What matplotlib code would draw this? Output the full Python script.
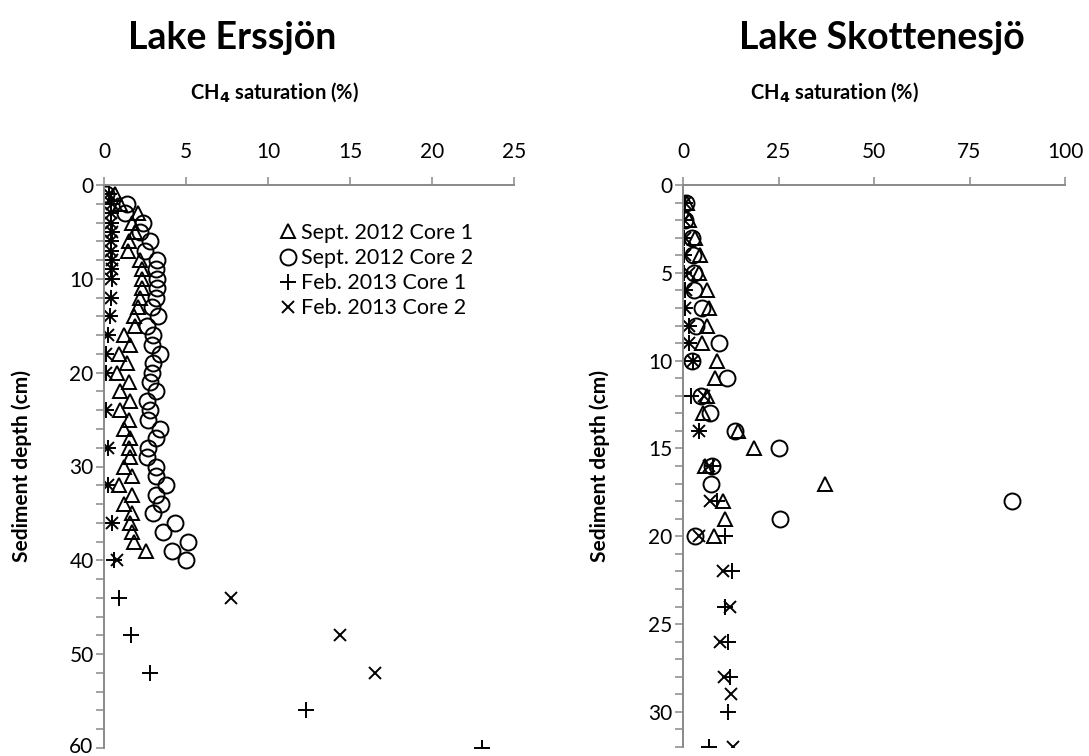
import numpy as np
import matplotlib
matplotlib.use('Agg')
import matplotlib.pyplot as plt
import matplotlib.transforms as mtransforms
from matplotlib.ticker import MultipleLocator

plt.rcParams['font.family'] = ['Lato', 'DejaVu Sans']

# ---- Lake Erssjon (depth in cm, CH4 saturation in %) ----
ers_sep1_depth = list(range(1, 40))
ers_sep1 = [0.7, 1.0, 2.1, 1.7, 1.9, 1.5, 1.45, 2.2, 2.3, 2.3,
            2.3, 2.2, 2.1, 1.8, 1.9, 1.2, 1.6, 0.9, 1.4, 0.8,
            1.5, 1.0, 1.6, 1.0, 1.5, 1.2, 1.6, 1.5, 1.6, 1.2,
            1.7, 0.9, 1.7, 1.2, 1.7, 1.6, 1.7, 1.8, 2.55]

ers_sep2_depth = list(range(1, 41))
ers_sep2 = [0.1, 1.4, 1.3, 2.4, 2.2, 2.8, 2.5, 3.25, 3.2, 3.25,
            3.25, 3.2, 2.9, 3.3, 2.6, 3.0, 2.9, 3.4, 3.0, 2.9,
            2.8, 3.2, 2.6, 2.8, 2.7, 3.4, 3.15, 2.7, 2.6, 3.2,
            3.15, 3.8, 3.15, 3.5, 3.0, 4.3, 3.6, 5.1, 4.15, 5.0]

ers_feb1_depth = [1, 2, 3, 4, 5, 6, 7, 8, 9, 10, 12, 14, 16, 18, 20, 24, 28,
                  32, 36, 40, 44, 48, 52, 56, 60]
ers_feb1 = [0.3, 0.45, 0.4, 0.45, 0.5, 0.4, 0.45, 0.5, 0.45, 0.5, 0.4, 0.35,
            0.25, 0.15, 0.1, 0.15, 0.25, 0.25, 0.5, 0.6, 0.93, 1.62, 2.79,
            12.3, 23.05]

ers_feb2_depth = [1, 2, 3, 4, 5, 6, 7, 8, 9, 10, 12, 14, 16, 18, 20, 24, 28,
                  32, 36, 40, 44, 48, 52]
ers_feb2 = [0.3, 0.5, 0.45, 0.4, 0.5, 0.45, 0.4, 0.5, 0.5, 0.45, 0.4, 0.35,
            0.25, 0.15, 0.1, 0.15, 0.25, 0.25, 0.5, 0.8, 7.74, 14.36, 16.5]

# ---- Lake Skottenesjo ----
sko_sep_depth = list(range(1, 21))
sko_sep1 = [1.0, 1.7, 3.2, 4.5, 4.3, 6.3, 6.7, 6.3, 5.0, 8.9,
            8.4, 6.3, 5.2, 14.3, 18.5, 5.8, 37.2, 10.6, 11.1, 8.0]
sko_sep2 = [0.7, 0.6, 2.3, 2.5, 3.0, 2.8, 5.0, 3.5, 9.3, 2.3,
            11.5, 4.7, 7.1, 13.7, 25.0, 7.7, 7.3, 86.0, 25.4, 3.2]

sko_feb1_depth = [1, 2, 3, 4, 5, 6, 7, 8, 9, 10, 12, 14, 16, 18, 20, 22, 24,
                  26, 28, 30, 32]
sko_feb1 = [0.5, 0.2, 0.3, 0.2, 0.2, 0.5, 0.6, 1.5, 1.5, 2.5, 2.1, 4.3, 7.8,
            9.0, 11.1, 12.8, 11.1, 11.9, 12.4, 11.9, 6.7]

sko_feb2_depth = [1, 2, 3, 4, 5, 6, 7, 8, 9, 10, 12, 14, 16, 18, 20, 22, 24,
                  26, 28, 29, 32]
sko_feb2 = [0.5, 0.3, 0.4, 0.4, 1.5, 0.8, 0.6, 1.5, 1.5, 2.5, 5.4, 4.3, 6.9,
            7.0, 4.3, 10.6, 12.4, 9.75, 10.8, 12.5, 13.1]

labels = ["Sept. 2012 Core 1", "Sept. 2012 Core 2",
          "Feb. 2013 Core 1", "Feb. 2013 Core 2"]

axis_grey = '#898989'
W, H = 1089, 756

fig = plt.figure(figsize=(W / 100, H / 100), dpi=100)


def px_axes(x0, x1, y0, y1):
    # axes box given in pixel coordinates (y from the top)
    return fig.add_axes([x0 / W, 1 - y1 / H, (x1 - x0) / W, (y1 - y0) / H])


def style(ax, xmax, xstep, ymax, ystep, yminor):
    ax.set_xlim(0, xmax)
    ax.set_ylim(ymax, 0)
    ax.xaxis.tick_top()
    ax.xaxis.set_major_locator(MultipleLocator(xstep))
    ax.set_yticks(np.arange(0, ymax + 1, ystep))
    ax.yaxis.set_minor_locator(MultipleLocator(yminor))
    for s in ['right', 'bottom']:
        ax.spines[s].set_visible(False)
    for s in ['left', 'top']:
        ax.spines[s].set_color(axis_grey)
        ax.spines[s].set_linewidth(1.4)
    ax.tick_params(which='both', direction='out', length=5.5, width=1.1,
                   color=axis_grey, labelsize=15, labelcolor='black')
    ax.tick_params(axis='x', pad=11)
    ax.tick_params(axis='y', pad=2)


def draw(ax, d1, v1, d2, v2, d3, v3, d4, v4):
    kw = dict(linestyle='none', color='black', mfc='none', mew=1.4)
    ax.plot(v1, d1, marker='^', ms=10.5, label=labels[0], **kw)
    ax.plot(v2, d2, marker='o', ms=11.5, label=labels[1], **kw)
    ax.plot(v3, d3, marker='+', ms=11, label=labels[2], **kw)
    ax.plot(v4, d4, marker='x', ms=9, label=labels[3], **kw)


ax1 = px_axes(104, 514, 185, 748)
style(ax1, 25, 5, 60, 10, 2)
draw(ax1, ers_sep1_depth, ers_sep1, ers_sep2_depth, ers_sep2,
     ers_feb1_depth, ers_feb1, ers_feb2_depth, ers_feb2)
# nudge the bottom depth label up so it stays on the canvas
lab60 = ax1.yaxis.get_major_ticks()[-1].label1
lab60.set_transform(lab60.get_transform() +
                    mtransforms.ScaledTranslation(0, 3 / 100, fig.dpi_scale_trans))

ax2 = px_axes(683, 1065, 185, 747)
style(ax2, 100, 25, 32, 5, 1)
draw(ax2, sko_sep_depth, sko_sep1, sko_sep_depth, sko_sep2,
     sko_feb1_depth, sko_feb1, sko_feb2_depth, sko_feb2)

leg = ax1.legend(loc='upper left', bbox_to_anchor=(282 / W, 1 - 223 / H),
                 bbox_transform=fig.transFigure, frameon=False, fontsize=15.5,
                 handlelength=0.55, handletextpad=0.35, labelspacing=0.24,
                 borderpad=0, borderaxespad=0)

# panel titles and axis titles
fig.text(232 / W, 1 - 38 / H, "Lake Erssjön", ha='center', va='center',
         fontsize=27, fontweight='bold')
fig.text(882 / W, 1 - 38 / H, "Lake Skottenesjö", ha='center', va='center',
         fontsize=27, fontweight='bold')
for cx in [275, 835]:
    fig.text(cx / W, 1 - 92 / H, "CH$_\\mathbf{4}$ saturation (%)",
             ha='center', va='center', fontsize=14.5, fontweight='bold')
for cx in [22, 600]:
    fig.text(cx / W, 1 - 466 / H, "Sediment depth (cm)", rotation=90,
             ha='center', va='center', fontsize=15, fontweight='bold')

fig.savefig('out.png', dpi=100)
